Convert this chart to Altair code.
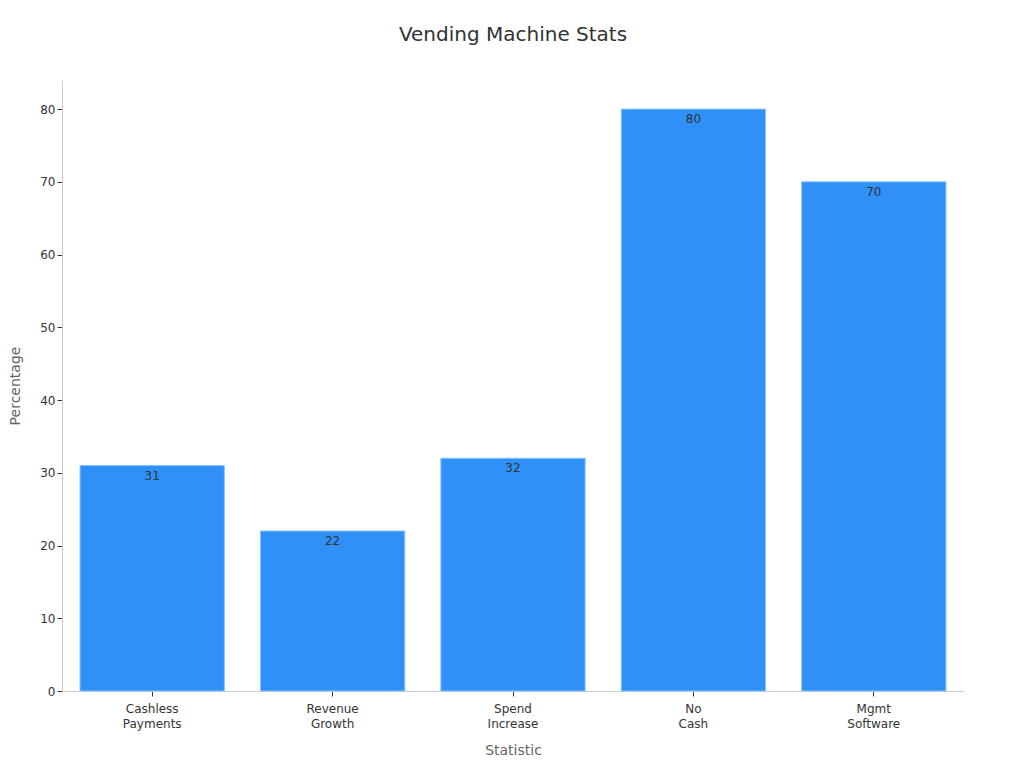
import altair as alt
import pandas as pd

categories = ["Cashless Payments", "Revenue Growth", "Spend Increase", "No Cash", "Mgmt Software"]
values = [31, 22, 32, 80, 70]

df = pd.DataFrame({"Statistic": categories, "Percentage": values})

x = alt.X("Statistic:N", sort=categories, title="Statistic",
          scale=alt.Scale(paddingInner=0.2, paddingOuter=0.1),
          axis=alt.Axis(labelAngle=0, labelExpr="split(datum.label, ' ')",
                        labelFontSize=12, labelColor="#333", labelLineHeight=15,
                        titleFontSize=14, titleColor="#666", titleFontWeight="normal",
                        titlePadding=14, domainColor="#ccc", tickColor="#333",
                        tickSize=5, labelPadding=7))
y = alt.Y("Percentage:Q", title="Percentage",
          scale=alt.Scale(domain=[0, 84], nice=False),
          axis=alt.Axis(values=[0, 10, 20, 30, 40, 50, 60, 70, 80], grid=False,
                        labelFontSize=12, labelColor="#333", titleFontSize=14,
                        titleColor="#666", titleFontWeight="normal", titlePadding=17,
                        domainColor="#ccc", tickColor="#333", tickSize=5))

bars = alt.Chart(df).mark_bar(color="#2f91f8", stroke="#8cc4fb", strokeWidth=1).encode(x=x, y=y)
labels = alt.Chart(df).mark_text(baseline="top", dy=5, fontSize=12, color="#333").encode(
    x=alt.X("Statistic:N", sort=categories), y="Percentage:Q", text="Percentage:Q")

chart = (bars + labels).properties(
    width=902, height=611,
    padding={"left": 0, "top": 17, "right": 5, "bottom": 5},
    title=alt.TitleParams("Vending Machine Stats", fontSize=20, fontWeight="normal",
                          color="#333", offset=35),
).configure(font="DejaVu Sans").configure_view(stroke=None)

chart.save("out.html", embed_options={"renderer": "svg", "actions": False})
